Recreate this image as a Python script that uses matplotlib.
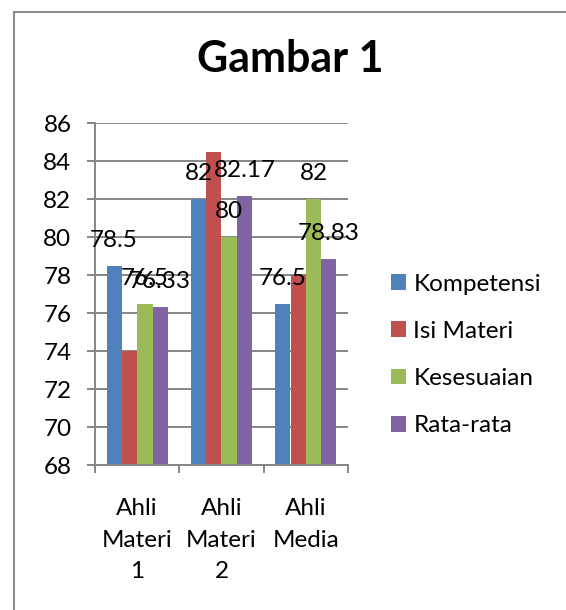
import numpy as np
from matplotlib import pyplot as plt
from matplotlib.lines import Line2D

plt.rcParams['font.family'] = ['Lato', 'DejaVu Sans']

# data
categories = ["Ahli\nMateri\n1", "Ahli\nMateri\n2", "Ahli\nMedia"]
series = ["Kompetensi", "Isi Materi", "Kesesuaian", "Rata-rata"]
kompetensi = [78.5, 82, 76.5]
isi_materi = [74, 84.5, 78]
kesesuaian = [76.5, 80, 82]
rata_rata = [76.33, 82.17, 78.83]
values = [kompetensi, isi_materi, kesesuaian, rata_rata]
show_labels = [True, False, True, True]
colors = ["#4F81BD", "#C0504D", "#9BBB59", "#8064A2"]
yticks = np.arange(68, 87, 2)

W, H = 566, 610
fig = plt.figure(figsize=(W / 100, H / 100), dpi=100)
ax = fig.add_axes([95 / W, 1 - 465 / H, (348 - 95) / W, (465 - 123) / H])

x = np.arange(len(categories))
w = 1 / 5.5
grid_col = "#868686"

for i, (name, vals) in enumerate(zip(series, values)):
    bars = ax.bar(x + (i - 1.5) * w, vals, w, color=colors[i], label=name, zorder=2)
    if show_labels[i]:
        for b, v in zip(bars, vals):
            ax.annotate(f"{v:g}", (b.get_x() + b.get_width() / 2, v),
                        xytext=(0, 13.5), textcoords="offset points",
                        ha="center", va="baseline", fontsize=17.5, zorder=3)

ax.set_ylim(68, 86)
ax.set_xlim(-0.5, 2.5)
ax.set_yticks(yticks)
ax.yaxis.grid(True, color=grid_col, lw=1.4, zorder=0)
ax.set_axisbelow(True)

# category boundaries as major ticks, names on minor ticks
ax.set_xticks(np.arange(-0.5, 3, 1))
ax.set_xticklabels([])
ax.set_xticks(x, minor=True)
ax.set_xticklabels(categories, minor=True, fontsize=17.5, linespacing=1.6)
ax.tick_params(axis="x", which="major", length=6, width=1.4, color=grid_col, direction="out")
ax.tick_params(axis="x", which="minor", length=0, pad=24)
ax.tick_params(axis="y", length=6, width=1.4, color=grid_col, labelsize=17.5, pad=11)

for s in ["top", "right"]:
    ax.spines[s].set_visible(False)
for s in ["left", "bottom"]:
    ax.spines[s].set_color(grid_col)
    ax.spines[s].set_linewidth(1.4)

fig.text(290 / W, 1 - 58.5 / H, "Gambar 1", ha="center", va="center",
         fontsize=31, fontweight="bold")

fig.legend(loc="center left", bbox_to_anchor=(391 / W, 1 - 355 / H),
           frameon=False, fontsize=17.5, handlelength=0.62, handleheight=0.62,
           handletextpad=0.3, labelspacing=1.08, borderpad=0, borderaxespad=0)

# chart frame (only top and left edges fall inside the picture)
fig.add_artist(Line2D([14 / W, 14 / W], [0, 1 - 12 / H], color="#8c8c8c", lw=1.5))
fig.add_artist(Line2D([14 / W, 1], [1 - 12 / H, 1 - 12 / H], color="#8c8c8c", lw=1.5))

fig.savefig("out.png", dpi=100)
